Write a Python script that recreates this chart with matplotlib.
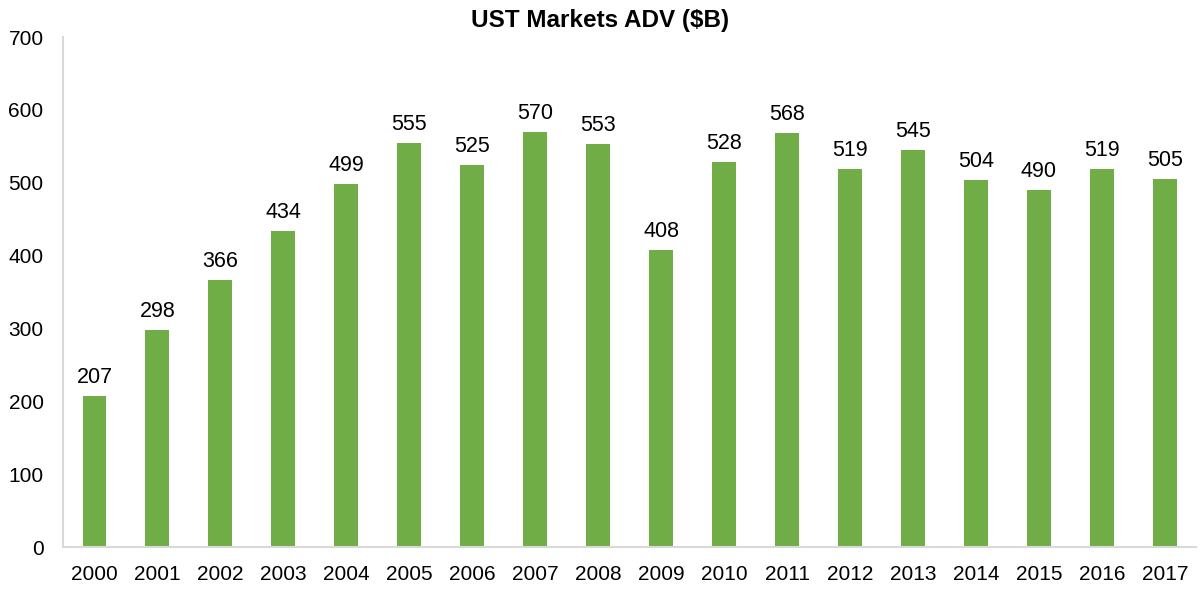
import matplotlib.pyplot as plt
import numpy as np

plt.rcParams['font.family'] = ['Liberation Sans', 'DejaVu Sans']

# Data
years = [str(y) for y in range(2000, 2018)]
adv = [207, 298, 366, 434, 499, 555, 525, 570, 553, 408,
       528, 568, 519, 545, 504, 490, 519, 505]

fig = plt.figure(figsize=(12, 5.89), dpi=100)
ax = fig.add_axes([0.0525, 0.071, 0.9445, 0.866])

x = np.arange(len(years))
bars = ax.bar(x, adv, width=0.38, color='#70AD47')

for xi, v in zip(x, adv):
    ax.text(xi, v + 11, str(v), ha='center', va='bottom', fontsize=15.5)

ax.set_xlim(-0.5, len(years) - 0.5)
ax.set_ylim(0, 700)
ax.set_yticks(range(0, 701, 100))
ax.set_xticks(x)
ax.set_xticklabels(years)
ax.tick_params(axis='both', length=0, labelsize=15)
ax.tick_params(axis='y', pad=14)
ax.tick_params(axis='x', pad=13)

for s in ['top', 'right']:
    ax.spines[s].set_visible(False)
for s in ['left', 'bottom']:
    ax.spines[s].set_color('#D9D9D9')
    ax.spines[s].set_linewidth(1.5)

# title centred on the figure, not the axes
fig.text(0.5, 0.945, 'UST Markets ADV ($B)', ha='center', va='bottom',
         fontsize=17.5, fontweight='bold')

fig.savefig('out.png', dpi=100)
